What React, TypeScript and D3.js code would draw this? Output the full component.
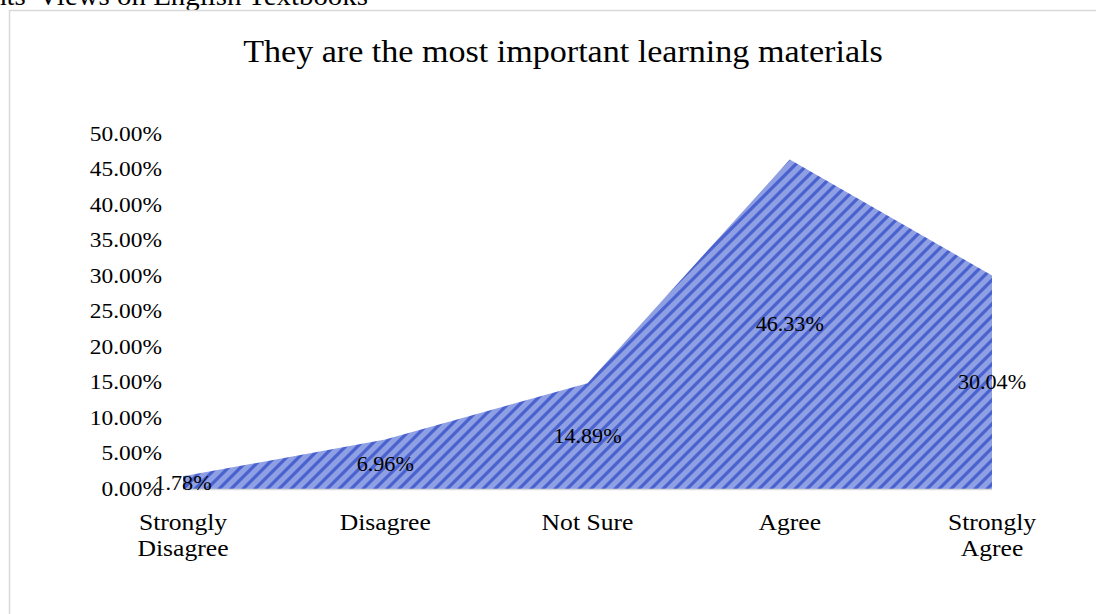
import React from "react";
import * as d3 from "d3";

const categories: string[][] = [
  ["Strongly", "Disagree"],
  ["Disagree"],
  ["Not Sure"],
  ["Agree"],
  ["Strongly", "Agree"],
];
const values: number[] = [1.78, 6.96, 14.89, 46.33, 30.04];
const yTicks: number[] = [0, 5, 10, 15, 20, 25, 30, 35, 40, 45, 50];
const title = "They are the most important learning materials";
const caption = "Students' Views on English Textbooks";

const W = 1096;
const H = 614;
const FONT = "'Liberation Serif', 'Times New Roman', serif";

function SText({ x, y, size, anchor = "middle", sx = 1.1, children }: any) {
  return (
    <text
      transform={`translate(${x},${y}) scale(${sx},1)`}
      fontSize={size}
      fontFamily={FONT}
      textAnchor={anchor}
      fill="#000"
    >
      {children}
    </text>
  );
}

export default function App() {
  const idx = d3.range(values.length);
  const x = d3.scaleLinear().domain([0, values.length - 1]).range([183, 992]);
  const y = d3.scaleLinear().domain([0, 50]).range([489, 133.5]);

  const area = d3
    .area<number>()
    .x((_, i) => x(i))
    .y0(y(0))
    .y1((d) => y(d));

  return (
    <svg
      width={W}
      height={H}
      style={{ position: "absolute", left: 0, top: 0, background: "#fff" }}
    >
      <defs>
        <pattern id="wud" patternUnits="userSpaceOnUse" width={12} height={12}>
          <rect width={12} height={12} fill="#8f9fe3" />
          <path
            d="M-3,3 L3,-3 M0,12 L12,0 M9,15 L15,9"
            stroke="#4a62cf"
            strokeWidth={3.2}
          />
        </pattern>
      </defs>
      <rect width={W} height={H} fill="#fff" />
      <SText x={368} y={5} size={27} anchor="end" sx={1.07}>
        {caption}
      </SText>
      <rect
        x={9.5}
        y={10.5}
        width={W + 20}
        height={H + 20}
        fill="#fff"
        stroke="#d9d9d9"
        strokeWidth={1.5}
      />
      <SText x={563} y={62} size={32} sx={1.065}>
        {title}
      </SText>
      {yTicks.map((t) => (
        <SText key={t} x={162} y={y(t) + 7} size={21.5} anchor="end" sx={1.09}>
          {t.toFixed(2) + "%"}
        </SText>
      ))}
      <path d={area(values) || ""} fill="url(#wud)" />
      <line
        x1={x(0)}
        x2={x(values.length - 1)}
        y1={y(0) + 0.5}
        y2={y(0) + 0.5}
        stroke="#d9d9d9"
        strokeWidth={1.5}
      />
      {idx.map((i) => (
        <SText key={"l" + i} x={x(i)} y={(y(0) + y(values[i])) / 2 + 7} size={20.5} sx={1.08}>
          {values[i].toFixed(2) + "%"}
        </SText>
      ))}
      {idx.map((i) =>
        categories[i].map((line, j) => (
          <SText key={"c" + i + j} x={x(i)} y={530 + j * 26} size={23.5} sx={1.09}>
            {line}
          </SText>
        ))
      )}
    </svg>
  );
}
